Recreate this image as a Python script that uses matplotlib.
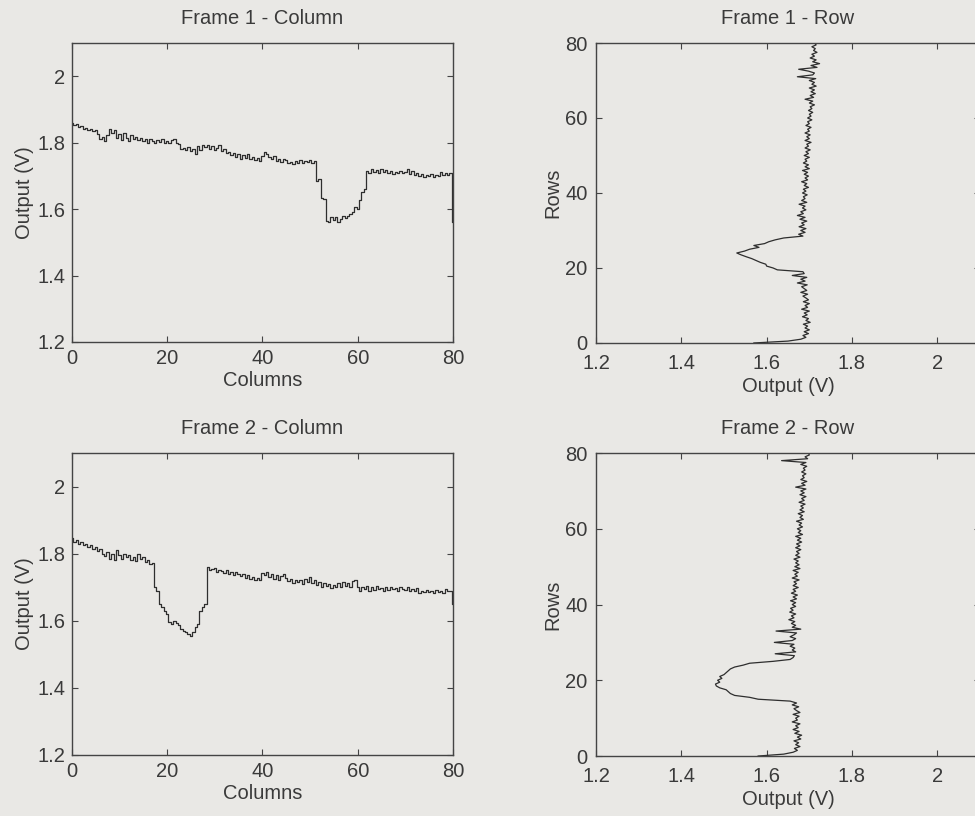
import numpy as np
import matplotlib.pyplot as plt
from matplotlib.ticker import FormatStrFormatter

# Позиції відліків (крок 0.5 піксела)
pos = np.arange(0, 80.5, 0.5)

# Кадр 1 - стовпчик
frame1_col = [
    1.860, 1.852, 1.855, 1.846, 1.850, 1.842, 1.845, 1.838, 1.841, 1.835,
    1.838, 1.826, 1.810, 1.818, 1.806, 1.822, 1.842, 1.828, 1.838, 1.815,
    1.825, 1.808, 1.830, 1.815, 1.805, 1.822, 1.812, 1.818, 1.808, 1.815,
    1.805, 1.812, 1.800, 1.810, 1.806, 1.798, 1.808, 1.802, 1.810, 1.800,
    1.805, 1.798, 1.808, 1.812, 1.800, 1.795, 1.780, 1.785, 1.778, 1.788,
    1.775, 1.782, 1.765, 1.790, 1.778, 1.792, 1.786, 1.794, 1.780, 1.790,
    1.778, 1.785, 1.792, 1.775, 1.780, 1.768, 1.772, 1.762, 1.770, 1.758,
    1.765, 1.750, 1.762, 1.755, 1.766, 1.752, 1.758, 1.748, 1.755, 1.745,
    1.760, 1.772, 1.766, 1.758, 1.752, 1.760, 1.744, 1.750, 1.742, 1.752,
    1.748, 1.738, 1.742, 1.735, 1.745, 1.738, 1.748, 1.740, 1.745, 1.742,
    1.748, 1.740, 1.745, 1.685, 1.690, 1.632, 1.630, 1.565, 1.560, 1.575,
    1.568, 1.575, 1.560, 1.570, 1.578, 1.572, 1.580, 1.585, 1.592, 1.605,
    1.600, 1.628, 1.650, 1.660, 1.715, 1.708, 1.722, 1.712, 1.718, 1.710,
    1.722, 1.712, 1.718, 1.708, 1.715, 1.705, 1.712, 1.708, 1.715, 1.710,
    1.712, 1.720, 1.705, 1.715, 1.702, 1.708, 1.700, 1.705, 1.698, 1.703,
    1.700, 1.706, 1.698, 1.704, 1.700, 1.712, 1.704, 1.708, 1.702, 1.710,
    1.560,
]

# Кадр 2 - стовпчик
frame2_col = [
    1.848, 1.835, 1.842, 1.830, 1.836, 1.825, 1.830, 1.820, 1.826, 1.815,
    1.820, 1.808, 1.815, 1.800, 1.792, 1.805, 1.785, 1.798, 1.782, 1.812,
    1.795, 1.785, 1.800, 1.790, 1.796, 1.782, 1.790, 1.778, 1.798, 1.785,
    1.790, 1.775, 1.780, 1.768, 1.772, 1.700, 1.690, 1.650, 1.640, 1.630,
    1.620, 1.595, 1.590, 1.600, 1.592, 1.588, 1.575, 1.570, 1.565, 1.560,
    1.555, 1.565, 1.580, 1.590, 1.630, 1.640, 1.650, 1.760, 1.750, 1.755,
    1.758, 1.745, 1.752, 1.748, 1.742, 1.750, 1.740, 1.746, 1.735, 1.745,
    1.740, 1.732, 1.738, 1.728, 1.735, 1.725, 1.730, 1.722, 1.728, 1.720,
    1.742, 1.735, 1.745, 1.730, 1.738, 1.725, 1.735, 1.722, 1.732, 1.740,
    1.728, 1.718, 1.725, 1.712, 1.722, 1.715, 1.720, 1.710, 1.725, 1.715,
    1.730, 1.712, 1.720, 1.708, 1.715, 1.700, 1.712, 1.705, 1.710, 1.698,
    1.708, 1.700, 1.712, 1.702, 1.715, 1.705, 1.712, 1.700, 1.718, 1.722,
    1.700, 1.688, 1.702, 1.695, 1.705, 1.690, 1.700, 1.692, 1.705, 1.695,
    1.698, 1.690, 1.702, 1.692, 1.700, 1.695, 1.698, 1.690, 1.700, 1.695,
    1.692, 1.700, 1.688, 1.696, 1.690, 1.698, 1.682, 1.690, 1.685, 1.692,
    1.686, 1.690, 1.684, 1.692, 1.686, 1.690, 1.684, 1.695, 1.688, 1.690,
    1.650,
]

# Кадр 1 - рядок
frame1_row = [
    1.570, 1.650, 1.680, 1.692, 1.685, 1.698, 1.688, 1.700, 1.690, 1.696,
    1.686, 1.702, 1.692, 1.698, 1.684, 1.695, 1.688, 1.700, 1.682, 1.696,
    1.690, 1.700, 1.686, 1.698, 1.692, 1.685, 1.696, 1.680, 1.694, 1.688,
    1.682, 1.695, 1.672, 1.690, 1.680, 1.694, 1.660, 1.688, 1.685, 1.625,
    1.615, 1.600, 1.598, 1.585, 1.575, 1.565, 1.552, 1.540, 1.530, 1.548,
    1.560, 1.582, 1.570, 1.595, 1.605, 1.620, 1.640, 1.685, 1.675, 1.690,
    1.680, 1.692, 1.676, 1.688, 1.682, 1.694, 1.678, 1.690, 1.672, 1.686,
    1.680, 1.692, 1.684, 1.690, 1.676, 1.694, 1.682, 1.690, 1.686, 1.695,
    1.684, 1.692, 1.686, 1.698, 1.688, 1.694, 1.682, 1.696, 1.690, 1.698,
    1.688, 1.696, 1.684, 1.700, 1.690, 1.698, 1.686, 1.694, 1.690, 1.700,
    1.688, 1.698, 1.692, 1.702, 1.690, 1.698, 1.694, 1.704, 1.690, 1.700,
    1.694, 1.702, 1.690, 1.700, 1.696, 1.704, 1.692, 1.700, 1.696, 1.706,
    1.696, 1.704, 1.700, 1.708, 1.698, 1.706, 1.702, 1.712, 1.700, 1.708,
    1.690, 1.710, 1.702, 1.714, 1.704, 1.712, 1.700, 1.716, 1.706, 1.712,
    1.700, 1.715, 1.672, 1.708, 1.712, 1.698, 1.675, 1.718, 1.704, 1.724,
    1.708, 1.716, 1.702, 1.712, 1.706, 1.718, 1.710, 1.714, 1.706, 1.716,
    1.712,
]

# Кадр 2 - рядок
frame2_row = [
    1.580, 1.640, 1.662, 1.672, 1.665, 1.678, 1.668, 1.675, 1.664, 1.680,
    1.672, 1.682, 1.666, 1.676, 1.662, 1.674, 1.668, 1.678, 1.660, 1.672,
    1.668, 1.676, 1.662, 1.678, 1.670, 1.664, 1.675, 1.660, 1.670, 1.655,
    1.580, 1.560, 1.525, 1.515, 1.510, 1.505, 1.490, 1.482, 1.480, 1.490,
    1.485, 1.495, 1.490, 1.500, 1.505, 1.510, 1.515, 1.525, 1.545, 1.560,
    1.615, 1.655, 1.662, 1.665, 1.620, 1.668, 1.660, 1.666, 1.655, 1.664,
    1.618, 1.660, 1.668, 1.655, 1.664, 1.670, 1.622, 1.680, 1.660, 1.668,
    1.658, 1.666, 1.652, 1.664, 1.658, 1.668, 1.654, 1.662, 1.656, 1.668,
    1.660, 1.668, 1.656, 1.670, 1.662, 1.672, 1.658, 1.668, 1.662, 1.674,
    1.662, 1.670, 1.664, 1.676, 1.660, 1.672, 1.666, 1.674, 1.662, 1.678,
    1.666, 1.676, 1.668, 1.674, 1.664, 1.678, 1.668, 1.676, 1.670, 1.680,
    1.668, 1.678, 1.670, 1.682, 1.672, 1.680, 1.668, 1.684, 1.674, 1.680,
    1.672, 1.684, 1.676, 1.682, 1.670, 1.686, 1.678, 1.684, 1.674, 1.688,
    1.678, 1.686, 1.680, 1.690, 1.676, 1.688, 1.682, 1.692, 1.678, 1.688,
    1.680, 1.692, 1.668, 1.690, 1.682, 1.694, 1.680, 1.688, 1.684, 1.692,
    1.682, 1.690, 1.686, 1.694, 1.680, 1.692, 1.635, 1.696, 1.690, 1.700,
    1.698,
]

bg = '#e9e8e5'
ink = '#3a3a3a'
fs = 14.5

plt.rcParams['font.family'] = ['Liberation Sans', 'DejaVu Sans']
plt.rcParams['text.color'] = ink
plt.rcParams['axes.labelcolor'] = ink

fig = plt.figure(figsize=(9.75, 8.16), dpi=100, facecolor=bg)

ax_tl = fig.add_axes([0.0738, 0.5809, 0.3908, 0.3664])
ax_tr = fig.add_axes([0.6113, 0.5797, 0.3938, 0.3676])
ax_bl = fig.add_axes([0.0738, 0.0748, 0.3908, 0.3701])
ax_br = fig.add_axes([0.6113, 0.0735, 0.3938, 0.3713])


def style(ax):
    ax.set_facecolor(bg)
    for s in ax.spines.values():
        s.set_color('#444444')
        s.set_linewidth(1.0)
    ax.tick_params(direction='in', top=True, right=True, length=4,
                   width=0.8, color='#444444', labelsize=fs,
                   labelcolor=ink, pad=5)
    ax.xaxis.set_major_formatter(FormatStrFormatter('%g'))
    ax.yaxis.set_major_formatter(FormatStrFormatter('%g'))


# Стовпчики
for ax, vals, title in [(ax_tl, frame1_col, 'Frame 1 - Column'),
                        (ax_bl, frame2_col, 'Frame 2 - Column')]:
    style(ax)
    ax.plot(pos, vals, color='#2e2e2e', linewidth=0.9, drawstyle='steps-mid')
    ax.set_xlim(0, 80)
    ax.set_ylim(1.2, 2.1)
    ax.set_xticks([0, 20, 40, 60, 80])
    ax.set_yticks([1.2, 1.4, 1.6, 1.8, 2.0])
    ax.set_title(title, fontsize=fs, color=ink, pad=14)
    ax.set_xlabel('Columns', fontsize=fs, labelpad=2)
    ax.set_ylabel('Output (V)', fontsize=fs, labelpad=2)

# Рядки
for ax, vals, title in [(ax_tr, frame1_row, 'Frame 1 - Row'),
                        (ax_br, frame2_row, 'Frame 2 - Row')]:
    style(ax)
    ax.plot(vals, pos, color='#2e2e2e', linewidth=0.9)
    ax.set_xlim(1.2, 2.1)
    ax.set_ylim(0, 80)
    ax.set_xticks([1.2, 1.4, 1.6, 1.8, 2.0])
    ax.set_yticks([0, 20, 40, 60, 80])
    ax.tick_params(axis='x', pad=8)
    ax.tick_params(axis='y', pad=6)
    ax.set_title(title, fontsize=fs, color=ink, pad=14)
    ax.set_xlabel('Output (V)', fontsize=fs, labelpad=3)
    ax.set_ylabel('Rows', fontsize=fs, labelpad=2)

fig.savefig('out.png', dpi=100, facecolor=bg)
